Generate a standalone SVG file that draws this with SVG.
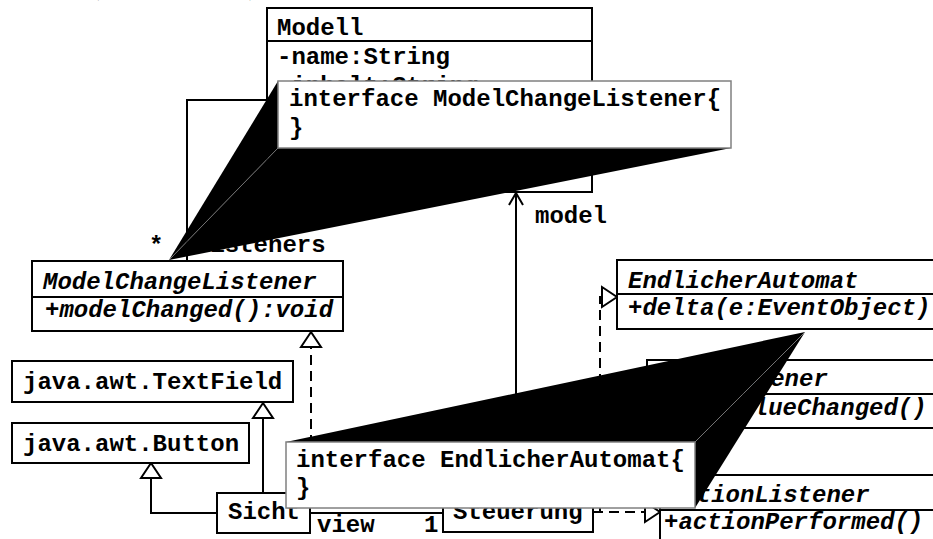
<svg xmlns="http://www.w3.org/2000/svg" width="933" height="539" viewBox="0 0 933 539">
<style>
.box{fill:#fff;stroke:#000;stroke-width:2}
.sep{stroke:#000;stroke-width:2}
.t{font-family:"Liberation Mono","Courier New",monospace;font-weight:bold;font-size:24px;fill:#000}
.i{font-style:italic}
.ln{fill:none;stroke:#000;stroke-width:2}
.dash{stroke-dasharray:10,6}
.note{fill:#fff;stroke:#808080;stroke-width:1.5}
.wedge{fill:#000;stroke:none}
.seam{stroke:#8a8a8a;stroke-width:0.7}
.title{font-family:"Liberation Serif","Times New Roman",serif;font-weight:bold;font-style:italic;font-size:45px}
</style>
<defs>
<marker id="tri" markerUnits="userSpaceOnUse" markerWidth="22" markerHeight="26" viewBox="-3 -13 22 26" refX="15" refY="0" orient="auto" overflow="visible">
<path d="M0,-10 L15,0 L0,10 Z" fill="#fff" stroke="#000" stroke-width="2"/>
</marker>
<marker id="open" markerUnits="userSpaceOnUse" markerWidth="20" markerHeight="20" viewBox="-16 -10 20 20" refX="0" refY="0" orient="auto" overflow="visible">
<path d="M-12,-7 L0,0 L-12,7" fill="none" stroke="#000" stroke-width="2"/>
</marker>
</defs>
<rect width="933" height="539" fill="#fff"/>
<text class="title" x="88" y="-9">(Konzept)</text>

<g id="connectors">
<path class="ln" d="M187,261 V100 H267"/>
<path class="ln" d="M516,492 V193" marker-end="url(#open)"/>
<path class="ln" d="M263,493 V403" marker-end="url(#tri)"/>
<path class="ln" d="M217,513 H151 V463" marker-end="url(#tri)"/>
<path class="ln dash" d="M311,493 V332" marker-end="url(#tri)"/>
<path class="ln" d="M310,513 H443"/>
<path class="ln dash" d="M593,512 H660" marker-end="url(#tri)"/>
<path class="ln dash" d="M600,512 V297 H617" marker-end="url(#tri)"/>
<text class="t" x="149" y="253">*</text>
<text class="t" x="196" y="252">listeners</text>
<text class="t" x="535" y="223">model</text>
<text class="t" x="317" y="532">view</text>
<text class="t" x="424" y="532">1</text>
</g>

<g id="Modell">
<rect class="box" x="267" y="8" width="325" height="184"/>
<line class="sep" x1="267" y1="41" x2="592" y2="41"/>
<text class="t" x="277" y="35">Modell</text>
<text class="t" x="277" y="64">-name:String</text>
<text class="t" x="277" y="93">-inhalt:String</text>
</g>

<g id="ModelChangeListener">
<rect class="box" x="32" y="261" width="311" height="70"/>
<line class="sep" x1="32" y1="297" x2="343" y2="297"/>
<text class="t i" x="43" y="289">ModelChangeListener</text>
<text class="t i" x="45" y="317">+modelChanged():void</text>
</g>

<g id="TextField">
<rect class="box" x="12" y="361" width="281" height="41"/>
<text class="t" x="23" y="389">java.awt.TextField</text>
</g>

<g id="Button">
<rect class="box" x="12" y="423" width="237" height="40"/>
<text class="t" x="23" y="451">java.awt.Button</text>
</g>

<g id="Sicht">
<rect class="box" x="217" y="493" width="93" height="40"/>
<text class="t" x="228" y="519">Sicht</text>
</g>

<g id="Steuerung">
<rect class="box" x="443" y="492" width="150" height="40"/>
<text class="t" x="453" y="519">Steuerung</text>
</g>

<g id="EndlicherAutomat">
<rect class="box" x="617" y="260" width="330" height="69"/>
<line class="sep" x1="617" y1="294" x2="947" y2="294"/>
<text class="t i" x="628" y="288">EndlicherAutomat</text>
<text class="t i" x="628" y="315">+delta(e:EventObject)</text>
</g>

<g id="TextListener">
<rect class="box" x="647" y="360" width="300" height="68"/>
<line class="sep" x1="647" y1="394" x2="947" y2="394"/>
<text class="t i" x="655" y="386">TextListener</text>
<text class="t i" x="653" y="415">+textValueChanged()</text>
</g>

<g id="ActionListener">
<rect class="box" x="660" y="475" width="290" height="75"/>
<line class="sep" x1="660" y1="510" x2="950" y2="510"/>
<text class="t i" x="668" y="502">ActionListener</text>
<text class="t i" x="664" y="529">+actionPerformed()</text>
</g>

<g id="note1">
<polygon class="wedge" points="169,260 278,81 278,148"/>
<polygon class="wedge" points="169,260 278,148 731,148"/>
<line class="seam" x1="169" y1="260" x2="278" y2="148"/>
<rect class="note" x="278" y="81" width="453" height="67"/>
<text class="t" x="289" y="106">interface ModelChangeListener{</text>
<text class="t" x="289" y="135">}</text>
</g>

<g id="note2">
<polygon class="wedge" points="805,332 286,442 695,442"/>
<polygon class="wedge" points="805,332 695,442 695,508"/>
<line class="seam" x1="805" y1="332" x2="695" y2="442"/>
<rect class="note" x="286" y="442" width="409" height="66"/>
<text class="t" x="296" y="467">interface EndlicherAutomat{</text>
<text class="t" x="296" y="495">}</text>
</g>
</svg>
